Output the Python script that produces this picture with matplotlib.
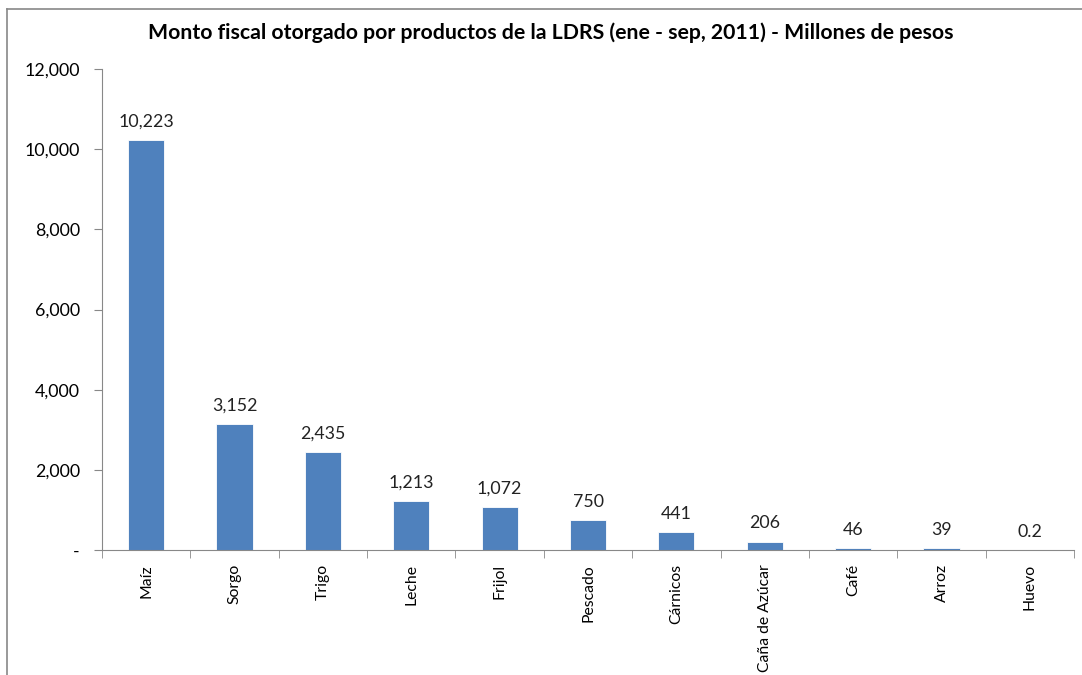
import matplotlib
matplotlib.use("Agg")
import matplotlib.pyplot as plt
from matplotlib.lines import Line2D
from matplotlib.ticker import FuncFormatter

plt.rcParams['font.family'] = ['Lato', 'DejaVu Sans']

productos = ['Maíz', 'Sorgo', 'Trigo', 'Leche', 'Frijol', 'Pescado', 'Cárnicos',
             'Caña de Azúcar', 'Café', 'Arroz', 'Huevo']
monto = [10223, 3152, 2435, 1213, 1072, 750, 441, 206, 46, 39, 0.2]
etiquetas = ['10,223', '3,152', '2,435', '1,213', '1,072', '750', '441', '206', '46', '39', '0.2']

fig = plt.figure(figsize=(10.82, 6.75), dpi=100)
ax = fig.add_axes([102/1082, 1 - 550/675, (1074 - 102)/1082, (550 - 69)/675])

x = list(range(len(productos)))
ax.bar(x, monto, width=0.41, color='#4F81BD', edgecolor='white', linewidth=0.6)

for xi, v, lab in zip(x, monto, etiquetas):
    ax.text(xi, v + 260, lab, ha='center', va='bottom', fontsize=12.8, color='#222222')

ax.set_xlim(-0.5, len(productos) - 0.5)
ax.set_ylim(0, 12000)
ax.set_yticks(range(0, 12001, 2000))
ax.yaxis.set_major_formatter(FuncFormatter(lambda v, p: '-' if v == 0 else f'{int(v):,}'))

ax.set_xticks(x)
ax.set_xticklabels(productos, rotation=90, fontsize=11.3)
ax.set_xticks([i - 0.5 for i in range(len(productos) + 1)], minor=True)
ax.tick_params(axis='x', which='major', length=0, pad=10)
ax.tick_params(axis='x', which='minor', length=6, color='#888888', direction='out')
ax.tick_params(axis='y', length=6, color='#888888', labelsize=12.8, pad=10)

for s in ['top', 'right']:
    ax.spines[s].set_visible(False)
for s in ['left', 'bottom']:
    ax.spines[s].set_color('#888888')

fig.text(551/1082, 1 - 33/675, 'Monto fiscal otorgado por productos de la LDRS (ene - sep, 2011) - Millones de pesos',
         ha='center', va='center', fontsize=15.3, fontweight='bold')

# marco del area del grafico
fig.add_artist(Line2D([7/1082, 7/1082], [0, 1 - 9/675], color='#888888', linewidth=1.2))
fig.add_artist(Line2D([7/1082, 1], [1 - 9/675, 1 - 9/675], color='#888888', linewidth=1.2))

fig.savefig('out.png', dpi=100)
